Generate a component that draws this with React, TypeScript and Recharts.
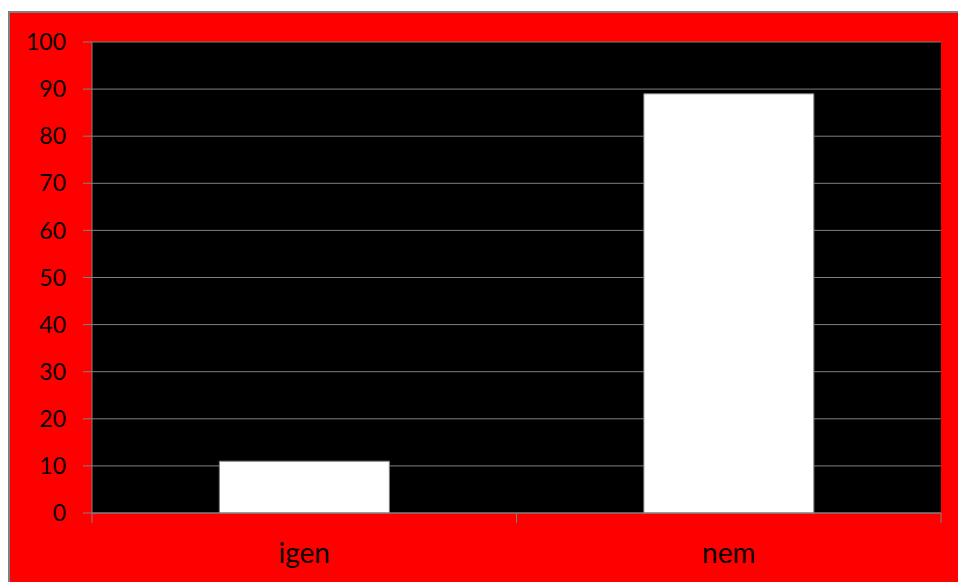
import React from "react";
import { BarChart, Bar, XAxis, YAxis, CartesianGrid } from "recharts";

const categories = ["igen", "nem"];
const values = [11, 89];
const yTicks = [0, 10, 20, 30, 40, 50, 60, 70, 80, 90, 100];

const data = categories.map((c, i) => ({ name: c, value: values[i] }));

const LABEL_GAP = 30;

const CategoryTick = (props: any) => {
  const { x, y, payload, index, visibleTicksCount } = props;
  const off = payload && typeof payload.offset === "number" ? payload.offset : 0;
  const axisY = y - LABEL_GAP;
  const isLast = index === (visibleTicksCount ?? categories.length) - 1;
  return (
    <g>
      <line x1={x - off} x2={x - off} y1={axisY} y2={axisY + 10} stroke="#808080" strokeWidth={1} />
      {isLast && (
        <line x1={x + off} x2={x + off} y1={axisY} y2={axisY + 10} stroke="#808080" strokeWidth={1} />
      )}
      <text
        x={x}
        y={y}
        dy="0.71em"
        textAnchor="middle"
        fill="#0a0000"
        fontSize={28}
        fontFamily="Lato"
      >
        {payload.value}
      </text>
    </g>
  );
};

export default function App() {
  return (
    <div
      style={{
        position: "absolute",
        left: 8,
        top: 11,
        width: 948,
        height: 569,
        background: "#ff0000",
        borderLeft: "2px solid #808080",
        borderTop: "2px solid #808080",
        overflow: "hidden",
      }}
    >
      <BarChart
        width={948}
        height={569}
        data={data}
        margin={{ top: 29, right: 17, bottom: 0, left: 0 }}
        barCategoryGap="30%"
      >
        <CartesianGrid
          vertical={false}
          stroke="#808080"
          strokeWidth={1}
          fill="#000000"
          fillOpacity={1}
        />
        <XAxis
          dataKey="name"
          height={69}
          axisLine={{ stroke: "#808080", strokeWidth: 1 }}
          tickLine={false}
          tickSize={0}
          tickMargin={LABEL_GAP}
          interval={0}
          tick={<CategoryTick />}
        />
        <YAxis
          width={82}
          domain={[0, 100]}
          ticks={yTicks}
          interval={0}
          axisLine={{ stroke: "#808080", strokeWidth: 1 }}
          tickLine={{ stroke: "#808080" }}
          tickSize={9}
          tickMargin={17}
          tick={{ fill: "#0a0000", fontSize: 23, fontFamily: "Lato" }}
        />
        <Bar
          dataKey="value"
          fill="#ffffff"
          stroke="#808080"
          strokeWidth={1}
          isAnimationActive={false}
        />
      </BarChart>
    </div>
  );
}
